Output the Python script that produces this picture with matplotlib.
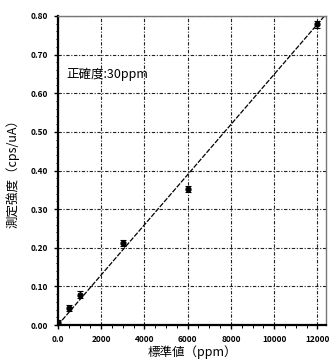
import numpy as np
import matplotlib
matplotlib.use('Agg')
import matplotlib.pyplot as plt
from matplotlib.ticker import MultipleLocator, FormatStrFormatter

plt.rcParams['font.family'] = ['Noto Sans CJK JP', 'DejaVu Sans']

# standard value (ppm) vs measured intensity (cps/uA)
std_ppm = [0, 500, 1000, 3000, 6000, 12000]
intensity = [0.005, 0.044, 0.079, 0.213, 0.352, 0.778]
intensity_err = [0.008, 0.008, 0.008, 0.008, 0.008, 0.008]

# calibration line end points
line_x = [0, 12330]
line_y = [0.0, 0.80]

x_ticks = [0, 2000, 4000, 6000, 8000, 10000, 12000]
x_labels = ['0.0', '2000', '4000', '6000', '8000', '10000', '12000']
note = '正確度:30ppm'

fig = plt.figure(figsize=(3.31, 3.62), dpi=100)
ax = fig.add_axes([0.175, 0.102, 0.81, 0.854])

ax.plot(line_x, line_y, color='black', lw=0.9, ls=(0, (4, 1.2)))
ax.errorbar(std_ppm, intensity, yerr=intensity_err, fmt='o', color='black',
            ms=3.5, capsize=2.5, elinewidth=0.8, capthick=0.8)

ax.set_xlim(0, 12400)
ax.set_ylim(0, 0.80)
ax.set_xticks(x_ticks)
ax.set_xticklabels(x_labels)
ax.yaxis.set_major_locator(MultipleLocator(0.1))
ax.yaxis.set_minor_locator(MultipleLocator(0.02))
ax.xaxis.set_minor_locator(MultipleLocator(500))
ax.yaxis.set_major_formatter(FormatStrFormatter('%.2f'))
ax.tick_params(axis='both', labelsize=6, width=1.0, length=3, pad=4)
ax.tick_params(which='minor', length=1.8, width=0.7)
for lab in ax.get_xticklabels() + ax.get_yticklabels():
    lab.set_fontweight('bold')

ax.grid(True, which='major', color='#222222', lw=0.8, ls=(0, (3, 1.5, 1, 1.5)))

for s in ['left', 'bottom']:
    ax.spines[s].set_linewidth(1.6)
for s in ['top', 'right']:
    ax.spines[s].set_linewidth(1.0)
    ax.spines[s].set_color('#777777')

ax.text(0.03, 0.81, note, transform=ax.transAxes, fontsize=9, va='center', ha='left')
ax.set_xlabel('標準値（ppm）', fontsize=9, labelpad=1)
ax.set_ylabel('測定強度（cps/uA）', fontsize=9, labelpad=8)

fig.savefig('out.png', dpi=100)
